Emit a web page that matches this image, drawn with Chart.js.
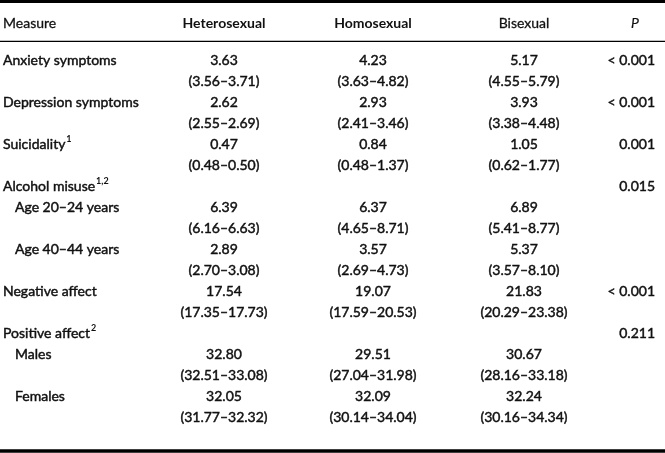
<!DOCTYPE html>
<html>
<head>
<meta charset="utf-8">
<script src="https://cdn.jsdelivr.net/npm/chart.js@4"></script>
<style>
  html,body{margin:0;padding:0;background:#fff;}
  canvas{display:block;}
</style>
</head>
<body>
<canvas id="tbl" width="665" height="453"></canvas>
<script>
// table content
const columns = ["Heterosexual","Homosexual","Bisexual"];
const measures = ["Anxiety symptoms","Depression symptoms","Suicidality","Alcohol misuse","Negative affect","Positive affect"];
const notes = ["","","1","1,2","","2"];
const pValues = ["< 0.001","< 0.001","0.001","0.015","< 0.001","0.211"];
const subgroups = [[],[],[],["Age 20–24 years","Age 40–44 years"],[],["Males","Females"]];

const heteroMean = ["3.63","2.62","0.47","6.39","2.89","17.54","32.80","32.05"];
const heteroCI   = ["3.56–3.71","2.55–2.69","0.48–0.50","6.16–6.63","2.70–3.08","17.35–17.73","32.51–33.08","31.77–32.32"];
const homoMean   = ["4.23","2.93","0.84","6.37","3.57","19.07","29.51","32.09"];
const homoCI     = ["3.63–4.82","2.41–3.46","0.48–1.37","4.65–8.71","2.69–4.73","17.59–20.53","27.04–31.98","30.14–34.04"];
const biMean     = ["5.17","3.93","1.05","6.89","5.37","21.83","30.67","32.24"];
const biCI       = ["4.55–5.79","3.38–4.48","0.62–1.77","5.41–8.77","3.57–8.10","20.29–23.38","28.16–33.18","30.16–34.34"];

// layout (pixels on x, row units on y)
const W = 665, H = 453, firstRowY = 60, rowH = 21;
const xLabel = 3, xIndent = 15, xCols = [224, 373, 524], xP = 655, xPhead = 635;
const toRow = px => (px - firstRowY) / rowH;

// build row list
const rows = [];
let k = 0;
measures.forEach((m,i)=>{
  if(subgroups[i].length){
    rows.push({label:m, note:notes[i], x:xLabel, p:pValues[i]});
    subgroups[i].forEach(s=>{
      rows.push({label:s, x:xIndent, vals:[heteroMean[k],homoMean[k],biMean[k]]});
      rows.push({vals:[heteroCI[k],homoCI[k],biCI[k]].map(v=>"("+v+")")});
      k++;
    });
  } else {
    rows.push({label:m, note:notes[i], x:xLabel, p:pValues[i], vals:[heteroMean[k],homoMean[k],biMean[k]]});
    rows.push({vals:[heteroCI[k],homoCI[k],biCI[k]].map(v=>"("+v+")")});
    k++;
  }
});

const FONT = "Lato, 'Open Sans', sans-serif";
const ink = "#111";

function textSet(points, align, font, heavy){
  return {type:"scatter", data:points, pointRadius:0, textAlign:align, textFont:font, heavy:heavy, isText:true};
}
function rule(y, w){
  return {type:"line", data:[{x:0,y:toRow(y)},{x:W,y:toRow(y)}], borderColor:"#000", borderWidth:w, pointRadius:0, fill:false};
}

const datasets = [];
// labels
datasets.push(textSet(rows.map((r,i)=>r.label?{x:r.x,y:i,t:r.label,n:r.note}:null).filter(Boolean), "left", "14px "+FONT, 0.45));
// value columns
columns.forEach((c,ci)=>{
  datasets.push(textSet(rows.map((r,i)=>r.vals?{x:xCols[ci],y:i,t:r.vals[ci]}:null).filter(Boolean), "center", "14px "+FONT, 0.45));
});
// P column
datasets.push(textSet(rows.map((r,i)=>r.p?{x:xP,y:i,t:r.p}:null).filter(Boolean), "right", "14px "+FONT, 0.45));
// header
const hy = toRow(23);
datasets.push(textSet([{x:xLabel,y:hy,t:"Measure"}], "left", "14px "+FONT, 0.3));
datasets.push(textSet([{x:xCols[0],y:hy,t:columns[0]},{x:xCols[1],y:hy,t:columns[1]}], "center", "bold 14px "+FONT, 0));
datasets.push(textSet([{x:xCols[2],y:hy,t:columns[2]}], "center", "14px "+FONT, 0.3));
datasets.push(textSet([{x:xPhead,y:hy,t:"P"}], "center", "italic 14px "+FONT, 0.2));
// rules
datasets.push(rule(1.5, 3));
datasets.push(rule(41.3, 1.3));
datasets.push(rule(451, 3.5));

const textPlugin = {
  id:"tableText",
  afterDatasetsDraw(chart){
    const ctx = chart.ctx;
    chart.data.datasets.forEach((ds,di)=>{
      if(!ds.isText) return;
      const meta = chart.getDatasetMeta(di);
      ctx.save();
      ctx.fillStyle = ink;
      ctx.strokeStyle = ink;
      ctx.textBaseline = "middle";
      meta.data.forEach((el,i)=>{
        const d = ds.data[i];
        ctx.font = ds.textFont;
        ctx.textAlign = ds.textAlign;
        ctx.fillText(d.t, el.x, el.y);
        if(ds.heavy){
          ctx.lineWidth = ds.heavy;
          ctx.strokeText(d.t, el.x, el.y);
        }
        if(d.n){
          const w = ctx.measureText(d.t).width;
          ctx.font = "bold 9px "+FONT;
          ctx.textAlign = "left";
          ctx.fillText(d.n, el.x + w + 1, el.y - 5);
        }
      });
      ctx.restore();
    });
  }
};

new Chart(document.getElementById("tbl"), {
  type:"scatter",
  data:{datasets},
  options:{
    responsive:false,
    animation:false,
    devicePixelRatio:1,
    events:[],
    layout:{padding:0},
    plugins:{legend:{display:false}, tooltip:{enabled:false}},
    scales:{
      x:{type:"linear", display:false, min:0, max:W},
      y:{type:"linear", display:false, reverse:true, min:toRow(0), max:toRow(H)}
    }
  },
  plugins:[textPlugin]
});
</script>
</body>
</html>
